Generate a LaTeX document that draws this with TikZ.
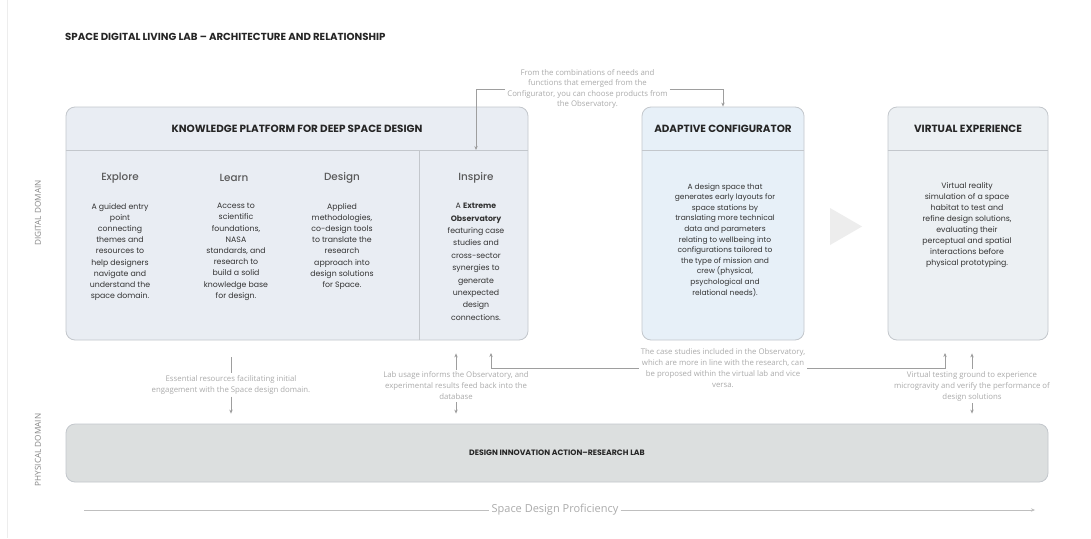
\documentclass[tikz,border=0pt]{standalone}
\usepackage{fontspec}
\setmainfont{Poppins}
\newfontfamily\capfont{Open Sans}
\newfontfamily\medfont{Poppins}[UprightFont={* Medium}]
\usetikzlibrary{arrows.meta}
\definecolor{kfill}{HTML}{E9EDF3}
\definecolor{afill}{HTML}{E7F0F8}
\definecolor{vfill}{HTML}{ECF0F3}
\definecolor{lfill}{HTML}{DCDFDF}
\definecolor{bord}{HTML}{C3C7CC}
\definecolor{conncol}{HTML}{9E9E9E}
\definecolor{captxt}{HTML}{ABABAB}
\definecolor{bodytxt}{HTML}{333333}
\definecolor{coltxt}{HTML}{5A5A5A}
\definecolor{playc}{HTML}{EDEDED}
\definecolor{domtxt}{HTML}{858585}
\begin{document}
\begin{tikzpicture}[x=1pt,y=-1pt,
  box/.style={draw=bord, line width=0.8pt, rounded corners=9pt, inner sep=0pt},
  divline/.style={draw=bord, line width=0.8pt},
  hdr/.style={font=\bfseries\fontsize{10.4}{12}\selectfont, text=black!85},
  maintitle/.style={font=\bfseries\fontsize{10.2}{12}\selectfont, text=black!85, anchor=west, inner sep=0pt},
  coltitle/.style={font=\medfont\fontsize{10.4}{12}\selectfont, text=coltxt},
  body/.style={font=\fontsize{7.8}{11.2}\selectfont, text=bodytxt, align=center, anchor=north, inner sep=0pt},
  captext/.style={font=\capfont\fontsize{7.8}{11}\selectfont, text=captxt, align=center, inner sep=2pt},
  dom/.style={font=\capfont\fontsize{8.2}{10}\selectfont, text=domtxt, rotate=90},
  conn/.style={draw=conncol, line width=0.7pt},
  >={Stealth[length=4pt,width=3.4pt]}]
\useasboundingbox (0,0) rectangle (1091,538);
\fill[white] (0,0) rectangle (1091,538);
\draw[black!7, line width=0.6pt] (7,0) -- (7,538);

% title
\node[maintitle] (title) at (65,37) {SPACE DIGITAL LIVING LAB – ARCHITECTURE AND RELATIONSHIP};

% domain labels
\node[dom] (dd) at (38,213) {DIGITAL DOMAIN};
\node[dom] (pd) at (38,450) {PHYSICAL DOMAIN};

% knowledge platform
\node[box, fill=kfill, minimum width=462, minimum height=233] (kp) at (297,223.5) {};
\draw[divline] (kp.west |- 0,150) -- (kp.east |- 0,150);
\draw[divline] (419,150) -- (kp.south -| 419,0);
\node[hdr] (kph) at (297,129) {KNOWLEDGE PLATFORM FOR DEEP SPACE DESIGN};

\node[coltitle] (t1) at (120,178) {Explore};
\node[coltitle] (t2) at (234,178) {Learn};
\node[coltitle] (t3) at (342,178) {Design};
\node[coltitle] (t4) at (476,178) {Inspire};

\node[body] (b1) at (120,203) {A guided entry\\point\\connecting\\themes and\\resources to\\help designers\\navigate and\\understand the\\space domain.};
\node[body] (b2) at (236,203) {Access to\\scientific\\foundations,\\NASA\\standards, and\\research to\\build a solid\\knowledge base\\for design.};
\node[body] (b3) at (342,203) {Applied\\methodologies,\\co-design tools\\to translate the\\research\\approach into\\design solutions\\for Space.};
\node[body, font=\fontsize{7.8}{12.4}\selectfont] (b4) at (476,203) {A \textbf{Extreme}\\\textbf{Observatory}\\featuring case\\studies and\\cross-sector\\synergies to\\generate\\unexpected\\design\\connections.};

% adaptive configurator
\node[box, fill=afill, minimum width=162, minimum height=233] (ac) at (723,223.5) {};
\draw[divline] (ac.west |- 0,150) -- (ac.east |- 0,150);
\node[hdr] (ach) at (723,129) {ADAPTIVE CONFIGURATOR};
\node[body, anchor=center, font=\fontsize{7.5}{10.6}\selectfont] (acb) at (725,240) {A design space that\\generates early layouts for\\space stations by\\translating more technical\\data and parameters\\relating to wellbeing into\\configurations tailored to\\the type of mission and\\crew (physical,\\psychological and\\relational needs).};

% play triangle
\fill[playc] (830,208) -- (862,226.5) -- (830,245) -- cycle;

% virtual experience
\node[box, fill=vfill, minimum width=160, minimum height=233] (ve) at (968,223.5) {};
\draw[divline] (ve.west |- 0,150) -- (ve.east |- 0,150);
\node[hdr] (veh) at (968,129) {VIRTUAL EXPERIENCE};
\node[body, anchor=center, font=\fontsize{7.8}{10.9}\selectfont] (veb) at (967,225) {Virtual reality\\simulation of a space\\habitat to test and\\refine design solutions,\\evaluating their\\perceptual and spatial\\interactions before\\physical prototyping.};

% physical lab
\node[box, fill=lfill, minimum width=982, minimum height=58] (lab) at (557,453) {};
\node[hdr, font=\bfseries\fontsize{7.8}{9}\selectfont] (labt) at (557,453) {DESIGN INNOVATION ACTION–RESEARCH LAB};

% connector 1 (top)
\node[captext, font=\capfont\fontsize{7.8}{10.4}\selectfont] (cap1) at (587.5,89) {From the combinations of needs and\\functions that emerged from the\\Configurator, you can choose products from\\the Observatory.};
\coordinate (insptop) at (476,150);
\draw[conn,->] (cap1.west) -| (insptop);
\draw[conn,->] (cap1.east) -| (ac.north);

% connector 2 (explore)
\node[captext] (cap2) at (231,385) {Essential resources facilitating initial\\engagement with the Space design domain.};
\draw[conn, shorten <=17pt] (kp.south -| cap2.north) -- (cap2.north);
\draw[conn,->, shorten >=10pt] (cap2.south) -- (lab.north -| cap2.south);

% connector 3 (inspire)
\node[captext] (cap3) at (456,386) {Lab usage informs the Observatory, and\\experimental results feed back into the\\database};
\draw[conn,<-, shorten <=13pt] (kp.south -| cap3.north) -- (cap3.north);
\draw[conn,->, shorten >=10pt] (cap3.south) -- (lab.north -| cap3.south);

% connector 4 (observatory <-> virtual)
\node[captext, font=\capfont\fontsize{7.8}{11.2}\selectfont] (cap4) at (723,368) {The case studies included in the Observatory,\\which are more in line with the research, can\\be proposed within the virtual lab and vice\\versa.};
\coordinate (c4a) at (491,353);
\coordinate (c4b) at (945,353);
\draw[conn,->] (cap4.west) -| (c4a);
\draw[conn,->] (cap4.east) -| (c4b);

% connector 5 (virtual)
\node[captext] (cap5) at (972,386) {Virtual testing ground to experience\\microgravity and verify the performance of\\design solutions};
\draw[conn,<-, shorten <=13pt] (ve.south -| cap5.north) -- (cap5.north);
\draw[conn,->, shorten >=10pt] (cap5.south) -- (lab.north -| cap5.south);

% proficiency axis
\node[font=\capfont\fontsize{11}{13}\selectfont, text=captxt, inner sep=2pt] (sdp) at (555,510) {Space Design Proficiency};
\coordinate (sdpl) at (84,510);
\coordinate (sdpr) at (1035,510);
\draw[conn, draw=black!25] (sdpl) -- (sdp.west);
\draw[conn, draw=black!25, ->] (sdp.east) -- (sdpr);
\end{tikzpicture}
\end{document}
